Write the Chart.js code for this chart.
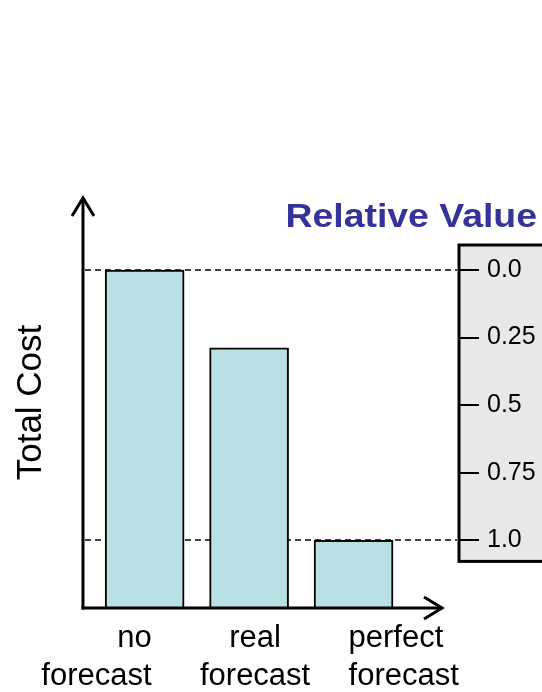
<!DOCTYPE html>
<html>
<head>
<meta charset="utf-8">
<script src="https://cdn.jsdelivr.net/npm/chart.js@4"></script>
<style>
  body { margin: 0; background: #fff; }
  canvas { display: block; }
</style>
</head>
<body>
<canvas id="c" width="542" height="692"></canvas>
<script>
// bars: total cost for each forecast case (arbitrary units)
const categories = [['no', 'forecast'], ['real', 'forecast'], ['perfect', 'forecast']]
const totalCost = [100, 77, 20]
const costAxisMax = 121.6

// relative value axis, 0 = no forecast, 1 = perfect forecast
const relTicks = [0, 0.25, 0.5, 0.75, 1]
const relTickLabels = ['0.0', '0.25', '0.5', '0.75', '1.0']

const FONT = '"Liberation Sans", Arial, sans-serif'

const costNone = totalCost[0]
const costPerfect = totalCost[2]
const relAt = c => (costNone - c) / (costNone - costPerfect)

const decor = {
    id: 'decor',
    beforeDraw(chart) {
        const ctx = chart.ctx
        const y2 = chart.scales.y2
        const top = y2.getPixelForValue(0) - 25
        const bottom = y2.getPixelForValue(1) + 21
        ctx.save()
        ctx.fillStyle = '#e8e8e8'
        ctx.strokeStyle = '#000'
        ctx.lineWidth = 3
        ctx.fillRect(459, top, 100, bottom - top)
        ctx.strokeRect(459, top, 100, bottom - top)
        ctx.restore()
    },
    beforeDatasetsDraw(chart) {
        const ctx = chart.ctx
        const y = chart.scales.y
        const area = chart.chartArea
        ctx.save()
        ctx.strokeStyle = '#000'
        ctx.lineWidth = 1.5
        ctx.setLineDash([6, 4])
        ;[costNone, costPerfect].forEach(v => {
            const py = Math.round(y.getPixelForValue(v))
            ctx.beginPath()
            ctx.moveTo(area.left + 2, py)
            ctx.lineTo(area.right - 1, py)
            ctx.stroke()
        })
        ctx.restore()
    },
    afterDatasetsDraw(chart) {
        const ctx = chart.ctx
        const area = chart.chartArea
        const ax = area.left
        const ay = area.bottom
        ctx.save()
        ctx.strokeStyle = '#000'
        ctx.lineWidth = 3
        ctx.lineCap = 'butt'
        ctx.lineJoin = 'miter'
        // y axis
        ctx.beginPath()
        ctx.moveTo(ax, ay + 1.5)
        ctx.lineTo(ax, area.top + 1)
        ctx.stroke()
        ctx.beginPath()
        ctx.moveTo(ax - 11, area.top + 19)
        ctx.lineTo(ax, area.top + 1)
        ctx.lineTo(ax + 11, area.top + 19)
        ctx.stroke()
        // x axis
        const tipX = 443
        ctx.beginPath()
        ctx.moveTo(ax - 1.5, ay)
        ctx.lineTo(tipX - 1, ay)
        ctx.stroke()
        ctx.beginPath()
        ctx.moveTo(tipX - 19, ay - 11)
        ctx.lineTo(tipX - 1, ay)
        ctx.lineTo(tipX - 19, ay + 11)
        ctx.stroke()
        ctx.restore()
    },
    afterDraw(chart) {
        const ctx = chart.ctx
        const x = chart.scales.x
        ctx.save()
        ctx.fillStyle = '#000'
        ctx.font = '31px ' + FONT
        ctx.textBaseline = 'alphabetic'
        const aligns = [['right', 7], ['center', 6], ['left', -5]]
        categories.forEach((lines, i) => {
            const px = x.getPixelForValue(i + 1) + aligns[i][1]
            ctx.textAlign = aligns[i][0]
            lines.forEach((t, j) => ctx.fillText(t, px, 647 + j * 38))
        })
        ctx.fillStyle = '#333399'
        ctx.font = 'bold 34px ' + FONT
        ctx.textAlign = 'right'
        ctx.translate(537, 227)
        ctx.scale(1.1, 1)
        ctx.fillText('Relative Value', 0, 0)
        ctx.restore()
    }
}

new Chart(document.getElementById('c').getContext('2d'), {
    type: 'bar',
    data: {
        datasets: [
            {
                data: totalCost.map((v, i) => ({ x: i + 1, y: v })),
                backgroundColor: '#b9e0e3',
                borderColor: '#000',
                borderWidth: 2,
                borderSkipped: 'bottom',
                barThickness: 79,
                yAxisID: 'y'
            }
        ]
    },
    options: {
        responsive: false,
        animation: false,
        events: [],
        layout: { padding: { top: 197, bottom: 84, left: 0, right: 0 } },
        plugins: {
            legend: { display: false },
            tooltip: { enabled: false },
            title: { display: false }
        },
        scales: {
            x: {
                type: 'linear',
                offset: false,
                min: 0.41,
                max: 4.0,
                display: false
            },
            y: {
                min: 0,
                max: costAxisMax,
                position: 'left',
                grid: { display: false },
                border: { display: false },
                ticks: { display: false },
                title: {
                    display: true,
                    text: 'Total Cost',
                    color: '#000',
                    font: { family: FONT, size: 35 },
                    padding: { top: 10, bottom: 0 }
                },
                afterFit: s => { s.width = 83 }
            },
            y2: {
                type: 'linear',
                position: 'right',
                reverse: true,
                min: relAt(costAxisMax),
                max: relAt(0),
                afterBuildTicks: s => { s.ticks = relTicks.map(v => ({ value: v })) },
                grid: {
                    drawOnChartArea: false,
                    color: '#000',
                    lineWidth: 2,
                    tickLength: 21
                },
                border: { display: false },
                ticks: {
                    color: '#000',
                    padding: 8,
                    font: { family: FONT, size: 25 },
                    callback: v => relTickLabels[relTicks.indexOf(v)]
                },
                afterFit: s => { s.width = 84 }
            }
        }
    },
    plugins: [decor]
})
</script>
</body>
</html>
